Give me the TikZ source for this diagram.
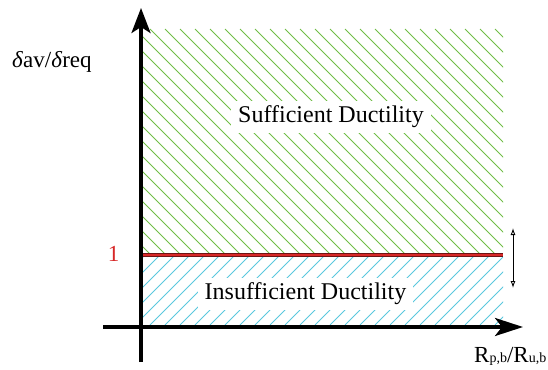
\documentclass[tikz,border=0pt]{standalone}
\usepackage{fontspec}
\setmainfont{Liberation Serif}
\newfontfamily\timesfont{Liberation Serif}
\usetikzlibrary{arrows.meta}
\definecolor{hatchgreen}{RGB}{112,190,70}
\definecolor{hatchcyan}{RGB}{90,200,222}
\definecolor{limred}{RGB}{215,40,40}
\definecolor{limdark}{RGB}{110,20,20}
\tikzset{
  axis/.style={line width=3.4pt},
  hatchG/.style={hatchgreen, line width=0.8pt},
  hatchC/.style={hatchcyan, line width=0.8pt},
  regionlabel/.style={fill=white, font=\timesfont\fontsize{24}{26}\selectfont, inner xsep=7pt, inner ysep=5pt},
  axislabel/.style={font=\timesfont\fontsize{23}{26}\selectfont, inner sep=0pt}
}
\begin{document}
\begin{tikzpicture}[x=1pt,y=-1pt]
\useasboundingbox (0,0) rectangle (548,369);
% hatching, sufficient region
\begin{scope}
  \clip (141,29) rectangle (503,253);
  \foreach \k in {-16,...,34} {
    \draw[hatchG] (15*\k,29) -- ++(240,240);
  }
\end{scope}
% hatching, insufficient region
\begin{scope}
  \clip (141,257) rectangle (503,325);
  \foreach \k in {5,...,36} {
    \draw[hatchC] (15*\k,325) -- ++(90,-90);
  }
\end{scope}
% region labels
\node[regionlabel] (suf) at (331,117) {Sufficient Ductility};
\node[regionlabel] (ins) at (305.5,294) {Insufficient Ductility};
% limit line
\coordinate (la) at (141,255);
\coordinate (lb) at (503,255);
\draw[limdark, line width=4.6pt] (la) -- (lb);
\draw[limred, line width=2.4pt] (la) -- (lb);
% axes
\coordinate (yb) at (141,362);
\coordinate (yt) at (141,8);
\coordinate (xl) at (103,327);
\coordinate (xr) at (523,327);
\draw[axis, -{Stealth[length=25pt, width=19pt, inset=6pt]}] (yb) -- (yt);
\draw[axis, -{Stealth[length=28pt, width=18pt, inset=7pt]}] (xl) -- (xr);
% double arrow
\coordinate (da) at (513,228);
\coordinate (db) at (513,288);
\draw[line width=0.9pt, {Latex[open, length=7pt, width=5pt]}-{Latex[open, length=7pt, width=5pt]}] (da) -- (db);
% labels
\node[axislabel, anchor=base west] (ylab) at (12,67) {\textit{δ}av/\textit{δ}req};
\node[axislabel, anchor=base, text=limred] (one) at (113.5,261) {1};
\node[axislabel, anchor=base west] (xlab) at (474,362) {R{\fontsize{14}{16}\selectfont p,b}/R{\fontsize{14}{16}\selectfont u,b}};
\end{tikzpicture}
\end{document}
